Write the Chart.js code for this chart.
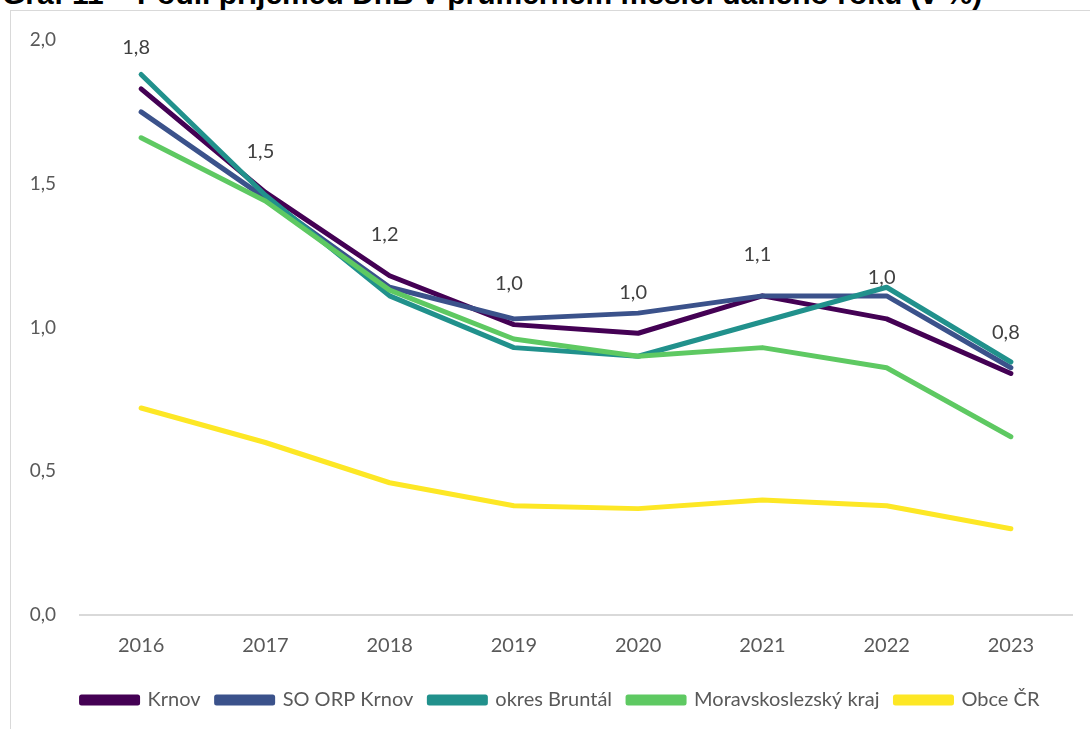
<!DOCTYPE html>
<html>
<head>
<meta charset="utf-8">
<script src="https://cdn.jsdelivr.net/npm/chart.js@4"></script>
<style>
  body { margin: 0; background: #fff; overflow: hidden; }
  #title {
    position: absolute; left: 2px; top: -23px; white-space: nowrap;
    font: bold 30px "Liberation Sans", Arial, sans-serif; color: #000;
  }
  #frame {
    position: absolute; left: 10px; top: 10px; width: 1100px; height: 740px;
    border-left: 1px solid #d9d9d9; border-top: 1px solid #d9d9d9;
    pointer-events: none;
  }
  #wrap { position: absolute; left: 0; top: 0; width: 1090px; height: 729px; }
</style>
</head>
<body>
<div id="title">Graf 11 – Podíl příjemců DnB v průměrném měsíci daného roku (v %)</div>
<div id="wrap"><canvas id="lineChart"></canvas></div>
<div id="frame"></div>
<script>
const years = ['2016', '2017', '2018', '2019', '2020', '2021', '2022', '2023'];
const krnov = [1.83, 1.47, 1.18, 1.01, 0.98, 1.11, 1.03, 0.84];
const soOrpKrnov = [1.75, 1.45, 1.14, 1.03, 1.05, 1.11, 1.11, 0.86];
const okresBruntal = [1.88, 1.46, 1.11, 0.93, 0.90, 1.02, 1.14, 0.88];
const msKraj = [1.66, 1.44, 1.13, 0.96, 0.90, 0.93, 0.86, 0.62];
const obceCR = [0.72, 0.60, 0.46, 0.38, 0.37, 0.40, 0.38, 0.30];

const names = ['Krnov', 'SO ORP Krnov', 'okres Bruntál', 'Moravskoslezský kraj', 'Obce ČR'];
const colors = ['#440154', '#3b528b', '#21918c', '#5ec962', '#fde725'];
const series = [krnov, soOrpKrnov, okresBruntal, msKraj, obceCR];

const fontFam = 'Lato, "Open Sans", sans-serif';
const fmt = v => v.toFixed(1).replace('.', ',');

// Krnov values above its points
const labelPlugin = {
    id: 'krnovLabels',
    afterLayout(chart) {
        // legend sits a bit right of centre and lower in the original
        chart.legend.left += 14;
        chart.legend.right += 14;
        chart.legend.top += 5;
        chart.legend.bottom += 5;
    },
    afterDatasetsDraw(chart) {
        const ctx = chart.ctx;
        const meta = chart.getDatasetMeta(0);
        ctx.save();
        ctx.font = '20px ' + fontFam;
        ctx.fillStyle = '#404040';
        ctx.textAlign = 'center';
        ctx.textBaseline = 'middle';
        meta.data.forEach((pt, i) => {
            ctx.fillText(fmt(krnov[i]), pt.x - 5, pt.y - 41);
        });
        ctx.restore();
    }
};

const ctx1 = document.getElementById('lineChart').getContext('2d');
const lineChart = new Chart(ctx1, {
    type: 'line',
    data: {
        labels: years,
        datasets: series.map((d, i) => ({
            label: names[i],
            data: d,
            borderColor: colors[i],
            backgroundColor: colors[i],
            borderWidth: 5,
            borderCapStyle: 'round',
            borderJoinStyle: 'round',
            pointRadius: 0,
            tension: 0,
            order: series.length - i // first series drawn first, like Excel
        }))
    },
    options: {
        responsive: true,
        maintainAspectRatio: false,
        animation: false,
        layout: { padding: { left: 20, right: 17, top: 40, bottom: 14 } },
        plugins: {
            legend: {
                position: 'bottom',
                labels: {
                    boxWidth: 56,
                    boxHeight: 6,
                    padding: 16,
                    color: '#595959',
                    font: { family: fontFam, size: 20 },
                    sort: (a, b) => a.datasetIndex - b.datasetIndex
                }
            },
            title: { display: false },
            tooltip: { enabled: false }
        },
        scales: {
            x: {
                offset: true,
                grid: { display: false },
                border: { display: false },
                ticks: { color: '#595959', padding: 11, font: { family: fontFam, size: 20 } }
            },
            y: {
                min: 0,
                max: 2,
                afterFit: s => { s.width = 59; },
                border: { display: false },
                grid: {
                    drawTicks: false,
                    color: c => c.tick.value === 0 ? '#d9d9d9' : 'rgba(0,0,0,0)',
                    lineWidth: 2
                },
                ticks: {
                    stepSize: 0.5,
                    padding: 23,
                    color: '#595959',
                    font: { family: fontFam, size: 19 },
                    callback: v => fmt(v)
                }
            }
        }
    },
    plugins: [labelPlugin]
});
</script>
</body>
</html>
